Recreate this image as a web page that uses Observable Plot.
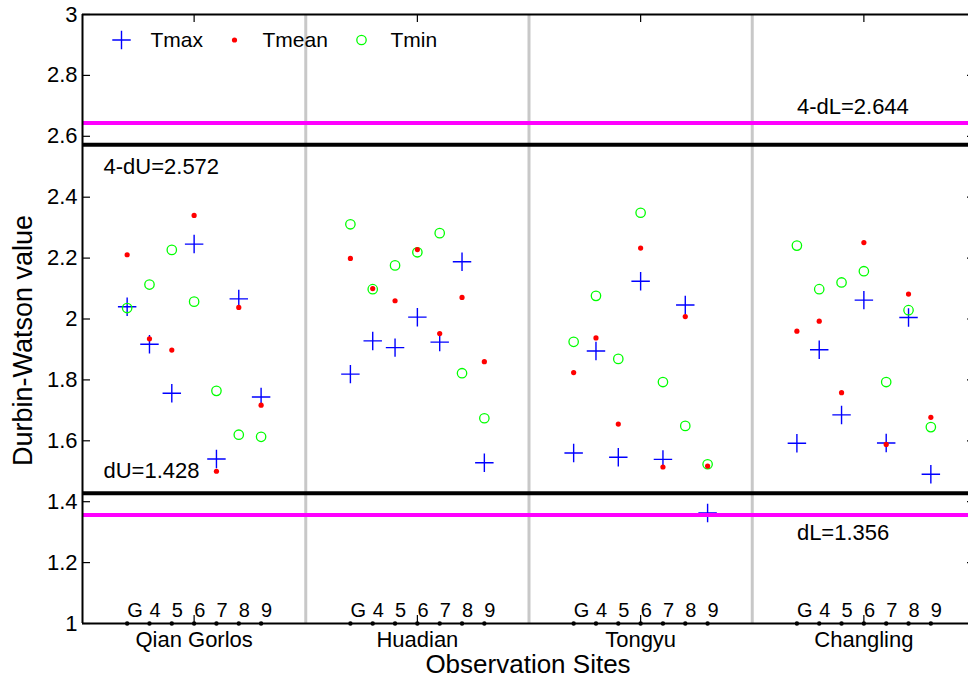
<!DOCTYPE html>
<html><head><meta charset="utf-8">
<script src="https://cdn.jsdelivr.net/npm/d3@7"></script>
<script src="https://cdn.jsdelivr.net/npm/@observablehq/plot@0.6"></script>
<style>body{margin:0;background:#fff;} svg{display:block;}</style>
</head><body><div id="chart"></div>
<script>
// ---- data ----
const stations = ["Qian Gorlos", "Huadian", "Tongyu", "Changling"];
const sites = ["G", "4", "5", "6", "7", "8", "9"];
const tmax = [
  [2.040, 1.917, 1.756, 2.246, 1.540, 2.066, 1.744],
  [1.819, 1.928, 1.906, 2.006, 1.924, 2.188, 1.528],
  [1.560, 1.895, 1.546, 2.124, 1.539, 2.046, 1.363],
  [1.592, 1.899, 1.685, 2.062, 1.593, 2.005, 1.490]
];
const tmean = [
  [2.211, 1.935, 1.898, 2.340, 1.500, 2.038, 1.717],
  [2.199, 2.100, 2.060, 2.228, 1.952, 2.071, 1.860],
  [1.824, 1.938, 1.655, 2.233, 1.514, 2.008, 1.517],
  [1.960, 1.993, 1.758, 2.251, 1.588, 2.082, 1.677]
];
const tmin = [
  [2.036, 2.113, 2.227, 2.057, 1.764, 1.620, 1.613],
  [2.311, 2.098, 2.176, 2.219, 2.282, 1.822, 1.674],
  [1.925, 2.076, 1.869, 2.349, 1.793, 1.649, 1.523],
  [2.241, 2.098, 2.120, 2.157, 1.793, 2.029, 1.645]
];
const boundNames = ["dL", "dU", "4-dU", "4-dL"];
const boundValues = [1.356, 1.428, 2.572, 2.644];
const boundColors = ["#ff00ff", "#000000", "#000000", "#ff00ff"];
const yTicks = [1, 1.2, 1.4, 1.6, 1.8, 2, 2.2, 2.4, 2.6, 2.8, 3];
const seriesNames = ["Tmax", "Tmean", "Tmin"];

// ---- layout helpers (category positions) ----
const groupSpan = 10, firstSite = 2;
const pos = (s, i) => s * groupSpan + firstSite + i;
const centers = stations.map((_, s) => s * groupSpan + firstSite + 3);
const dividers = [1, 2, 3].map(k => k * groupSpan);

function rows(arr) {
  const out = [];
  arr.forEach((vals, s) => vals.forEach((v, i) => out.push({x: pos(s, i), y: v, station: stations[s], site: sites[i]})));
  return out;
}
const maxRows = rows(tmax), meanRows = rows(tmean), minRows = rows(tmin);
const siteRows = [];
stations.forEach((st, s) => sites.forEach((lab, i) => siteRows.push({x: pos(s, i), label: lab})));
const bounds = boundNames.map((n, k) => ({name: n, value: boundValues[k], color: boundColors[k], label: `${n}=${boundValues[k].toFixed(3)}`}));

const xMax = stations.length * groupSpan;
const font = "Liberation Sans, Arial, Helvetica, sans-serif";

const tickLenX = 8 / 22.325, tickLenY = 8 / 304.5;

const chart = Plot.plot({
  width: 968,
  height: 681,
  marginLeft: 82,
  marginRight: 0,
  marginTop: 14,
  marginBottom: 58,
  style: {fontFamily: font, background: "#fff", color: "#000"},
  x: {domain: [0, xMax], range: [82, 975], axis: null},
  y: {domain: [1, 3], axis: null},
  marks: [
    // group dividers
    Plot.ruleX(dividers, {y1: 1, y2: 3, stroke: "#c8c8c8", strokeWidth: 3}),
    // points
    Plot.dot(maxRows, {x: "x", y: "y", symbol: "plus", r: 6, stroke: "#0000ff", strokeWidth: 1.4}),
    Plot.dot(minRows, {x: "x", y: "y", r: 4.7, stroke: "#00ff00", fill: "none", strokeWidth: 1.3}),
    Plot.dot(meanRows, {x: "x", y: "y", r: 2.6, fill: "#ff0000", stroke: "none"}),
    // threshold lines
    Plot.ruleY(bounds, {y: "value", x1: 0, x2: xMax, stroke: "color", strokeWidth: 4}),
    // annotations
    Plot.text(bounds.filter(d => d.name === "4-dU"), {y: "value", text: "label", frameAnchor: "left", textAnchor: "start", dx: 21, dy: 22, fontSize: 22}),
    Plot.text(bounds.filter(d => d.name === "dU"), {y: "value", text: "label", frameAnchor: "left", textAnchor: "start", dx: 21, dy: -22, fontSize: 22}),
    Plot.text(bounds.filter(d => d.name === "4-dL"), {y: "value", x: () => pos(3, 0), text: "label", textAnchor: "start", dx: 0, dy: -16, fontSize: 22}),
    Plot.text(bounds.filter(d => d.name === "dL"), {y: "value", x: () => pos(3, 0), text: "label", textAnchor: "start", dx: 0, dy: 17.5, fontSize: 22}),
    // box
    Plot.ruleY([1, 3], {x1: 0, x2: xMax, stroke: "#000", strokeWidth: 2}),
    Plot.ruleX([0, xMax], {y1: 1, y2: 3, stroke: "#000", strokeWidth: 2}),
    // inward ticks
    Plot.ruleY(yTicks, {x1: 0, x2: tickLenX, stroke: "#000", strokeWidth: 1.2}),
    Plot.ruleY(yTicks, {x1: xMax - tickLenX, x2: xMax, stroke: "#000", strokeWidth: 1.2}),
    Plot.ruleX(centers, {y1: 1, y2: 1 + tickLenY, stroke: "#000", strokeWidth: 1.2}),
    Plot.ruleX(centers, {y1: 3 - tickLenY, y2: 3, stroke: "#000", strokeWidth: 1.2}),
    // site markers and labels
    Plot.dot(siteRows, {x: "x", y: () => 1, r: 2.2, fill: "#000"}),
    Plot.text(siteRows, {x: "x", y: () => 1, text: "label", textAnchor: "start", dy: -12.5, fontSize: 20}),
    // axes
    Plot.axisY({ticks: yTicks, tickSize: 0, tickPadding: 5, fontSize: 22, tickFormat: d => String(+d.toFixed(1)), label: null}),
    Plot.axisX({ticks: centers, tickSize: 0, tickPadding: 8, fontSize: 22, tickFormat: (d, i) => stations[i], label: null}),
    Plot.text(["Observation Sites"], {frameAnchor: "bottom", textAnchor: "middle", dx: 2.5, dy: 41, fontSize: 26, lineAnchor: "middle"}),
    Plot.text(["Durbin-Watson value"], {frameAnchor: "left", textAnchor: "middle", dx: -59, dy: 21.5, rotate: -90, fontSize: 27, lineAnchor: "middle"}),
    // legend
    Plot.dot([seriesNames[0]], {frameAnchor: "top-left", dx: 39, dy: 25.5, symbol: "plus", r: 6, stroke: "#0000ff", strokeWidth: 1.4}),
    Plot.dot([seriesNames[1]], {frameAnchor: "top-left", dx: 152, dy: 25.5, r: 2.6, fill: "#ff0000", stroke: "none"}),
    Plot.dot([seriesNames[2]], {frameAnchor: "top-left", dx: 279, dy: 25.5, r: 4.7, stroke: "#00ff00", fill: "none", strokeWidth: 1.3}),
    Plot.text([seriesNames[0]], {frameAnchor: "top-left", dx: 68, dy: 26, text: d => d, textAnchor: "start", lineAnchor: "middle", fontSize: 21}),
    Plot.text([seriesNames[1]], {frameAnchor: "top-left", dx: 180, dy: 26, text: d => d, textAnchor: "start", lineAnchor: "middle", fontSize: 21}),
    Plot.text([seriesNames[2]], {frameAnchor: "top-left", dx: 308, dy: 26, text: d => d, textAnchor: "start", lineAnchor: "middle", fontSize: 21})
  ]
});
document.getElementById("chart").appendChild(chart);
</script>
</body></html>
